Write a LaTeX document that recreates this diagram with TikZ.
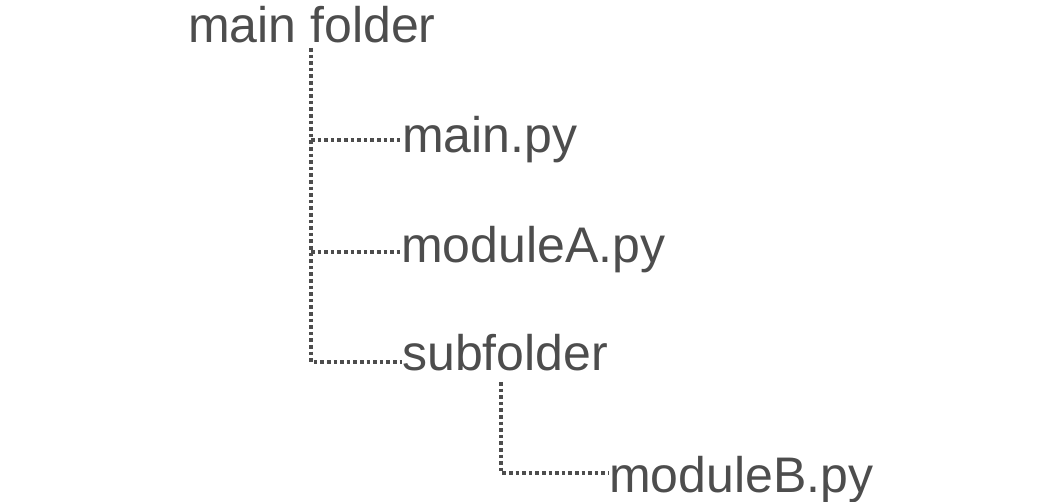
\documentclass[tikz,border=0pt]{standalone}
\usepackage{fontspec}
\setmainfont{Liberation Sans}
\definecolor{treegray}{RGB}{77,77,77}

\begin{document}
\begin{tikzpicture}[line cap=butt,line join=miter,x=1pt,y=-1pt,
    item/.style={anchor=base west,inner sep=0pt,text=treegray,font=\fontsize{50}{60}\selectfont},
    branch/.style={color=treegray,line width=3.4pt,dash pattern=on 3.6pt off 3pt}]
			\useasboundingbox (0,0) rectangle (1063,502);
			\node[item] (root) at (188,43) {main folder};
			\node[item] (mainpy) at (402,153) {main.py};
			\node[item] (modA) at (401,263) {moduleA.py};
			\node[item] (sub) at (402,371) {subfolder};
			\node[item] (modB) at (609,492) {moduleB.py};
			\coordinate (rootstem) at (311,48);
			\coordinate (j1) at (311,140);
			\coordinate (j2) at (311,252);
			\coordinate (j3) at (311,362);
			\coordinate (substem) at (501,382);
			\coordinate (j4) at (501,473);
			\draw [branch] (rootstem)-- (j3)-- (j3 -| sub.west);
			\draw [branch] (j1)-- (j1 -| mainpy.west);
			\draw [branch] (j2)-- (j2 -| modA.west);
			\draw [branch] (substem)-- (j4)-- (j4 -| modB.west);
		\end{tikzpicture}
\end{document}
